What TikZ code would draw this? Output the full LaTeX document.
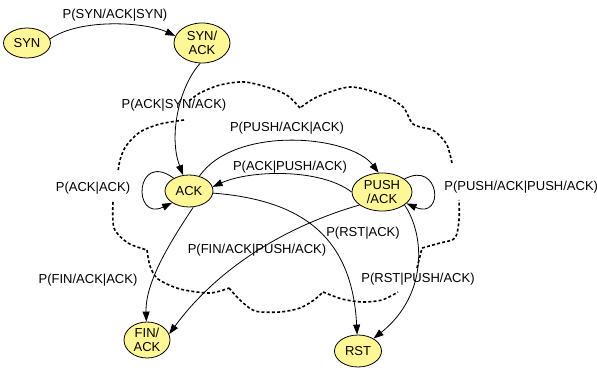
\documentclass[tikz,border=0pt]{standalone}
\usepackage{fontspec}
\setmainfont{Liberation Sans}
\usetikzlibrary{positioning,arrows.meta,shapes.geometric}
\definecolor{statefill}{RGB}{255,246,150}
\tikzset{
    state/.style = {
        draw,
        shape=ellipse,
        fill=statefill,
        align=center,
        inner sep=0pt,
        minimum height=30pt,
        minimum width=47pt,
        line width=0.8pt,
        font=\fontsize{13}{14}\selectfont
    },
    prob/.style = {
        shape=rectangle,
        inner sep=0pt,
        font=\fontsize{13}{14}\selectfont
    },
    region/.style = {
        line width=1.6pt,
        dash pattern=on 3pt off 2.2pt
    },
    >={Triangle[length=10pt,width=7pt]},
}

\begin{document}
\begin{tikzpicture}[x=1pt, y=-1pt, line width=0.8pt]
        \useasboundingbox (0,0) rectangle (597,374);

        % dashed region round the established states
        \draw[region]
            plot[smooth] coordinates {(184,120) (160,124) (140,132) (126,146) (120,160) (118,172)}
            plot[smooth] coordinates {(113,202) (114,228) (128,243) (147,250)}
            plot[smooth] coordinates {(147,250) (150,266) (158,279) (180,289) (210,293) (229,288)}
            plot[smooth] coordinates {(229,288) (240,300) (255,311) (280,312) (300,308) (314,300) (323,292)}
            plot[smooth] coordinates {(323,292) (342,299) (362,302) (382,300) (398,292)}
            plot[smooth] coordinates {(417,268) (420,256) (422,248)}
            plot[smooth] coordinates {(422,248) (440,243) (455,238) (459,220) (459,200)}
            plot[smooth] coordinates {(452,163) (447,145) (437,133) (430,129)}
            plot[smooth] coordinates {(430,129) (413,124) (403,107) (383,95) (350,87) (317,97) (300,108)}
            plot[smooth] coordinates {(300,108) (288,96) (273,89) (245,82) (220,85) (200,93) (189,101)};

        \node[state] (syn) at (27,43) {SYN};
        \node[state, minimum width=56pt, minimum height=40pt] (synack) at (202,43) {SYN/\\ACK};
        \node[state, minimum width=48pt, minimum height=32pt] (ack) at (189,191) {ACK};
        \node[state, minimum width=60pt, minimum height=38pt] (pushack) at (382,192) {PUSH\\/ACK};
        \node[state, minimum width=46pt, minimum height=36pt] (finack) at (147,340) {FIN/\\ACK};
        \node[state, minimum height=32pt] (rst) at (358,351) {RST};

        \node[prob] (psynack) at (115,15) {P(SYN/ACK|SYN)};
        \node[prob] (pack) at (174,105) {P(ACK|SYN/ACK)};
        \node[prob] (packack) at (93,188) {P(ACK|ACK)};
        \node[prob] (ppushack) at (287,128) {P(PUSH/ACK|ACK)};
        \node[prob] (packpush) at (290,167) {P(ACK|PUSH/ACK)};
        \node[prob, anchor=west] (ppushpush) at (444,187) {P(PUSH/ACK|PUSH/ACK)};
        \node[prob] (prstack) at (363,233) {P(RST|ACK)};
        \node[prob] (pfinpush) at (257,250) {P(FIN/ACK|PUSH/ACK)};
        \node[prob] (pfinack) at (88,280) {P(FIN/ACK|ACK)};
        \node[prob] (prstpush) at (418,279) {P(RST|PUSH/ACK)};

        \path[draw, ->] (syn.10) .. controls (80,18) and (145,22) .. (synack.165);
        \path[draw, ->] (synack.-95) .. controls (180,85) and (168,135) .. (ack);
        \path[draw, ->] (ack.140) .. controls (135,150) and (132,222) .. (ack.215);
        \path[draw, ->] (ack.55) .. controls (235,125) and (350,135) .. (pushack.100);
        \path[draw, ->] (pushack.180) .. controls (320,168) and (250,170) .. (ack.10);
        \path[draw, ->] (pushack.30) .. controls (440,160) and (445,220) .. (pushack.-25);
        \path[draw, ->] (ack.-5) .. controls (300,200) and (352,235) .. (rst);
        \path[draw, ->] (ack.-75) .. controls (175,235) and (145,280) .. (finack);
        \path[draw, ->] (pushack.210) .. controls (290,225) and (220,265) .. (finack.15);
        \path[draw, ->] (pushack.-30) .. controls (425,235) and (428,295) .. (rst);
    \end{tikzpicture}
\end{document}
